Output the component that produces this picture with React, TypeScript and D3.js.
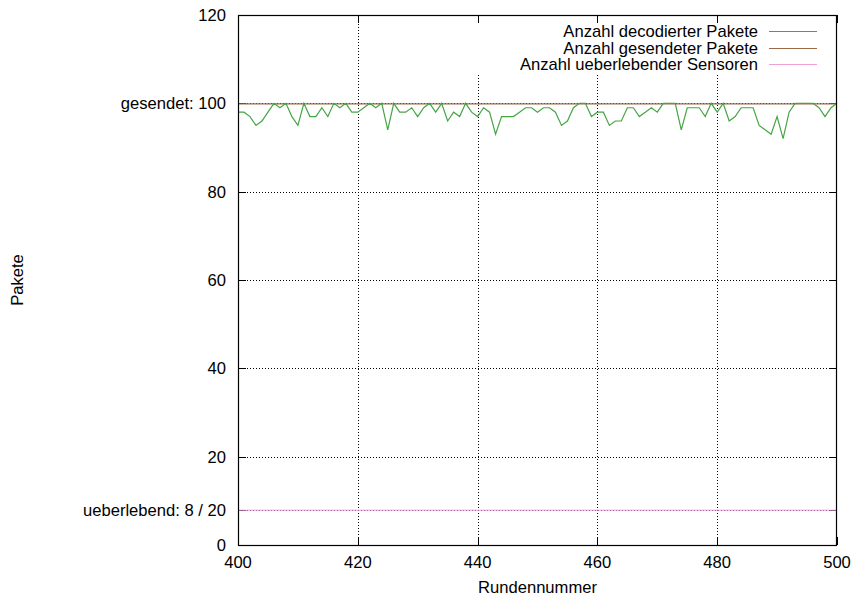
import React, { useEffect, useRef } from 'react';
import * as d3 from 'd3';

// Runden 400..500 (x-Achse)
const rounds = d3.range(400, 501);

// Anzahl decodierter Pakete pro Runde
const decodedPackets = [
  98, 98, 97, 95, 96, 98, 100, 99, 100, 97, 95, 100, 97, 97, 99, 97, 100, 99, 100, 98,
  98, 99, 100, 99, 100, 94, 100, 98, 98, 99, 97, 99, 100, 98, 100, 96, 98, 97, 100, 98,
  97, 99, 98, 93, 97, 97, 97, 98, 99, 99, 98, 99, 99, 98, 95, 96, 99, 100, 100, 97,
  98, 98, 95, 96, 96, 99, 99, 97, 98, 99, 98, 100, 100, 100, 94, 99, 99, 99, 97, 100,
  98, 100, 96, 97, 99, 99, 99, 95, 94, 93, 97, 92, 98, 100, 100, 100, 100, 99, 97, 99,
  100,
];

// konstante Reihen
const sentPackets = 100;
const survivingSensors = 8;
const totalSensors = 20;

const xTicks = [400, 420, 440, 460, 480, 500];
const yTickValues = [0, survivingSensors, 20, 40, 60, 80, sentPackets, 120];
const yTickLabels = ['0', `ueberlebend: ${survivingSensors} / ${totalSensors}`, '20', '40', '60', '80', `gesendet: ${sentPackets}`, '120'];

const legendLabels = ['Anzahl decodierter Pakete', 'Anzahl gesendeter Pakete', 'Anzahl ueberlebender Sensoren'];
const colors = ['#45a545', '#9a6a48', '#ef9fdb'];

const App = () => {
  const chartRef = useRef<HTMLDivElement>(null);

  useEffect(() => {
    d3.select(chartRef.current).select('svg').remove();

    const W = 856;
    const H = 601;
    const left = 238, right = 837, top = 15, bottom = 545;
    const font = '"Liberation Sans", Arial, Helvetica, sans-serif';
    const fs = 16.6;

    const svg = d3.select(chartRef.current)
      .append('svg')
      .attr('width', W)
      .attr('height', H)
      .style('position', 'absolute')
      .style('left', '0px')
      .style('top', '0px')
      .style('font-family', font)
      .style('font-size', `${fs}px`);

    svg.append('rect').attr('width', W).attr('height', H).attr('fill', '#fff');

    const x = d3.scaleLinear().domain([400, 500]).range([left, right]);
    const y = d3.scaleLinear().domain([0, 120]).range([bottom, top]);

    // Gitter
    const grid = svg.append('g')
      .attr('stroke', '#000')
      .attr('stroke-width', 1)
      .attr('stroke-dasharray', '1,2');
    grid.selectAll('line.gx')
      .data(xTicks.slice(1, -1))
      .enter()
      .append('line')
      .attr('x1', d => Math.round(x(d)) + 0.5)
      .attr('x2', d => Math.round(x(d)) + 0.5)
      .attr('y1', top)
      .attr('y2', bottom);
    grid.selectAll('line.gy')
      .data(yTickValues.filter(d => d > 0 && d < 120))
      .enter()
      .append('line')
      .attr('x1', left)
      .attr('x2', right)
      .attr('y1', d => Math.round(y(d)) + 0.5)
      .attr('y2', d => Math.round(y(d)) + 0.5);

    // Legendenhintergrund
    svg.append('rect')
      .attr('x', 470)
      .attr('y', top + 1)
      .attr('width', right - 471)
      .attr('height', 57)
      .attr('fill', '#fff');

    // Ticks (innen, gespiegelt)
    const ticks = svg.append('g').attr('stroke', '#000').attr('stroke-width', 1);
    xTicks.forEach(t => {
      const px = Math.round(x(t)) + 0.5;
      ticks.append('line').attr('x1', px).attr('x2', px).attr('y1', bottom).attr('y2', bottom - 8);
      ticks.append('line').attr('x1', px).attr('x2', px).attr('y1', top).attr('y2', top + 8);
    });
    yTickValues.forEach(t => {
      const py = Math.round(y(t)) + 0.5;
      ticks.append('line').attr('x1', left).attr('x2', left + 8).attr('y1', py).attr('y2', py);
      ticks.append('line').attr('x1', right).attr('x2', right - 8).attr('y1', py).attr('y2', py);
    });

    // Konstante Linien
    svg.append('line')
      .attr('x1', x(rounds[0])).attr('x2', x(rounds[rounds.length - 1]))
      .attr('y1', y(sentPackets) + 0.5).attr('y2', y(sentPackets) + 0.5)
      .attr('stroke', colors[1]).attr('stroke-width', 1.2);
    svg.append('line')
      .attr('x1', x(rounds[0])).attr('x2', x(rounds[rounds.length - 1]))
      .attr('y1', y(survivingSensors) + 0.5).attr('y2', y(survivingSensors) + 0.5)
      .attr('stroke', colors[2]).attr('stroke-width', 1);

    // Decodierte Pakete
    const line = d3.line<number>()
      .x((d, i) => x(rounds[i]))
      .y(d => y(d));
    svg.append('path')
      .datum(decodedPackets)
      .attr('d', line)
      .attr('fill', 'none')
      .attr('stroke', colors[0])
      .attr('stroke-width', 1.2)
      .attr('stroke-linejoin', 'miter');

    // Rahmen
    svg.append('rect')
      .attr('x', left + 0.5)
      .attr('y', top + 0.5)
      .attr('width', right - left - 1)
      .attr('height', bottom - top)
      .attr('fill', 'none')
      .attr('stroke', '#000')
      .attr('stroke-width', 1.2);

    // Achsenbeschriftung
    svg.append('g')
      .selectAll('text')
      .data(xTicks)
      .enter()
      .append('text')
      .attr('x', d => x(d))
      .attr('y', 568)
      .attr('text-anchor', 'middle')
      .text(d => d);

    svg.append('g')
      .selectAll('text')
      .data(yTickValues)
      .enter()
      .append('text')
      .attr('x', 226)
      .attr('y', d => y(d) + 6)
      .attr('text-anchor', 'end')
      .text((d, i) => yTickLabels[i]);

    svg.append('text')
      .attr('x', (left + right) / 2)
      .attr('y', 593)
      .attr('text-anchor', 'middle')
      .text('Rundennummer');

    svg.append('text')
      .attr('transform', `translate(23,${(top + bottom) / 2}) rotate(-90)`)
      .attr('text-anchor', 'middle')
      .text('Pakete');

    // Legende
    const legend = svg.append('g');
    legendLabels.forEach((label, i) => {
      const ly = 31 + i * 16.7;
      legend.append('text')
        .attr('x', 758)
        .attr('y', ly + 6)
        .attr('text-anchor', 'end')
        .text(label);
      legend.append('line')
        .attr('x1', 769).attr('x2', 817)
        .attr('y1', Math.round(ly) + 0.5).attr('y2', Math.round(ly) + 0.5)
        .attr('stroke', colors[i])
        .attr('stroke-width', 1.2);
    });
  }, []);

  return <div ref={chartRef}></div>;
};

export default App;
